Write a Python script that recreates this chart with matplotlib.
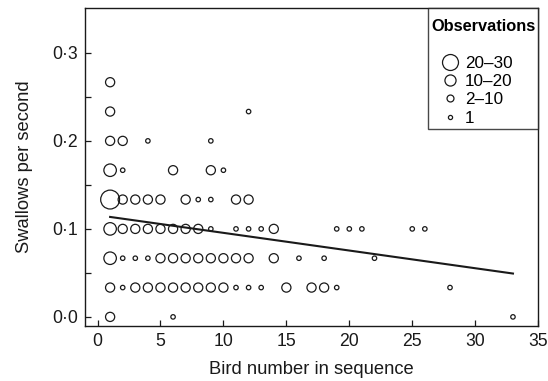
import matplotlib
matplotlib.use("Agg")
import matplotlib.pyplot as plt
from matplotlib.lines import Line2D
from matplotlib.ticker import FuncFormatter
import numpy as np

plt.rcParams['font.family'] = ['Liberation Sans', 'DejaVu Sans']

# Swallow rate rows (swallows per 30 s window -> per second)
# Each row: list of (bird number, observation class)
row_counts = [8, 7, 6, 5, 4, 3, 2, 1, 0]
rows = {
    8: [(1, '2-10')],
    7: [(1, '2-10'), (12, '1')],
    6: [(1, '2-10'), (2, '2-10'), (4, '1'), (9, '1')],
    5: [(1, '10-20'), (2, '1'), (6, '2-10'), (9, '2-10'), (10, '1')],
    4: [(1, '20-30'), (2, '2-10'), (3, '2-10'), (4, '2-10'), (5, '2-10'),
        (7, '2-10'), (8, '1'), (9, '1'), (11, '2-10'), (12, '2-10')],
    3: [(1, '10-20'), (2, '2-10'), (3, '2-10'), (4, '2-10'), (5, '2-10'),
        (6, '2-10'), (7, '2-10'), (8, '2-10'), (9, '1'), (11, '1'), (12, '1'),
        (13, '1'), (14, '2-10'), (19, '1'), (20, '1'), (21, '1'), (25, '1'),
        (26, '1')],
    2: [(1, '10-20'), (2, '1'), (3, '1'), (4, '1'), (5, '2-10'), (6, '2-10'),
        (7, '2-10'), (8, '2-10'), (9, '2-10'), (10, '2-10'), (11, '2-10'),
        (12, '2-10'), (14, '2-10'), (16, '1'), (18, '1'), (22, '1')],
    1: [(1, '2-10'), (2, '1'), (3, '2-10'), (4, '2-10'), (5, '2-10'),
        (6, '2-10'), (7, '2-10'), (8, '2-10'), (9, '2-10'), (10, '2-10'),
        (11, '1'), (12, '1'), (13, '1'), (15, '2-10'), (17, '2-10'),
        (18, '2-10'), (19, '1'), (28, '1')],
    0: [(1, '2-10'), (6, '1'), (33, '1')],
}
window_seconds = 30.0

obs_classes = ['20-30', '10-20', '2-10', '1']
obs_labels = ['20\u201330', '10\u201320', '2\u201310', '1']

# Fitted trend line
fit_intercept = 0.1156
fit_slope = -0.00201

# Marker diameters (points) for plot and legend
plot_size_pt = {'20-30': 13.6, '10-20': 9.0, '2-10': 6.6, '1': 3.2}
legend_size_pt = {'20-30': 11.5, '10-20': 8.0, '2-10': 5.0, '1': 3.0}

fig = plt.figure(figsize=(5.48, 3.81), dpi=100)
ax = fig.add_axes([0.155, 0.144, 0.827, 0.835])

ink = '#1a1a1a'
for k in row_counts:
    for cls in obs_classes:
        xs = [b for b, c in rows[k] if c == cls]
        if not xs:
            continue
        ys = np.full(len(xs), k / window_seconds)
        ax.scatter(xs, ys, s=plot_size_pt[cls] ** 2, facecolors='none',
                   edgecolors=ink, linewidths=0.9, zorder=3)

all_birds = [b for k in row_counts for b, _ in rows[k]]
xfit = np.array([min(all_birds), max(all_birds)])
ax.plot(xfit, fit_intercept + fit_slope * xfit, color=ink, lw=1.5, zorder=4)

ax.set_xlim(-1, 35)
ax.set_ylim(-0.0105, 0.351)
ax.set_xticks(np.arange(0, 36, 5))
ax.set_yticks(np.arange(0, 0.31, 0.05))


def fmt_y(v, pos):
    if abs(round(v * 10) - v * 10) < 1e-6:
        return f"{v:.1f}".replace('.', '\u00b7')
    return ''


ax.yaxis.set_major_formatter(FuncFormatter(fmt_y))
ax.tick_params(direction='in', length=4.5, width=0.9, labelsize=12.7,
               colors=ink, pad=5)
for sp in ax.spines.values():
    sp.set_linewidth(1.0)
    sp.set_color(ink)

ax.set_xlabel('Bird number in sequence', fontsize=13.2, color=ink, labelpad=8)
ax.set_ylabel('Swallows per second', fontsize=13.2, color=ink, labelpad=14)

# Legend: a blank spacer row separates the title from the size keys
spacer = Line2D([], [], ls='none', marker=None)
handles = [spacer] + [
    Line2D([], [], ls='none', marker='o', markersize=legend_size_pt[c],
           markerfacecolor='none', markeredgecolor=ink, markeredgewidth=0.9)
    for c in obs_classes]
labels = [''] + obs_labels
leg = ax.legend(handles, labels, title='\nObservations', loc='upper right',
                borderaxespad=0, frameon=True, fancybox=False,
                fontsize=12.3,
                title_fontproperties={'weight': 'bold', 'size': 11.8},
                handlelength=2.2, handletextpad=-0.2, labelspacing=0.2,
                borderpad=0.17)
leg.get_title().set_linespacing(0.4)
leg.get_frame().set_edgecolor(ink)
leg.get_frame().set_linewidth(1.0)
leg._legend_box.align = 'left'

fig.savefig('out.png', dpi=100)
